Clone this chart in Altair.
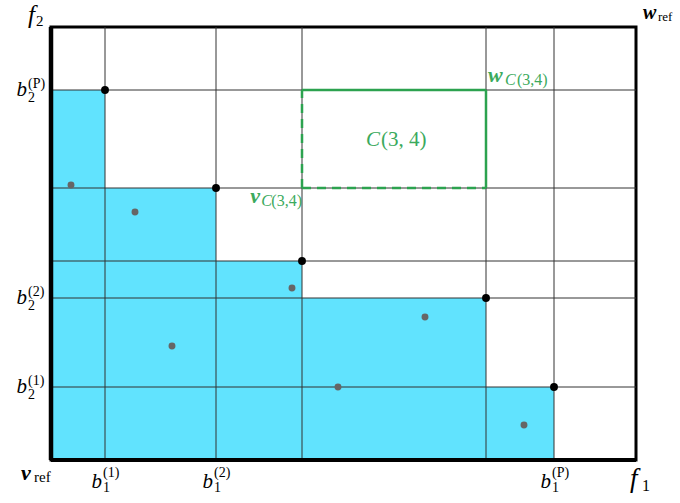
import altair as alt
import pandas as pd

# ---------------- data ----------------
X_MAX = 58.5
Y_MAX = 43.3

grid_x = [5.4, 16.5, 25.1, 43.5, 50.3]
grid_y = [7.3, 16.2, 19.9, 27.2, 37.0]

# local upper bounds (black corner points)
upper_x = [5.4, 16.5, 25.1, 43.5, 50.3]
upper_y = [37.0, 27.2, 19.9, 16.2, 7.3]

# image points (gray)
pts_x = [2.0, 8.4, 12.1, 24.1, 28.7, 37.4, 47.3]
pts_y = [27.5, 24.8, 11.4, 17.2, 7.3, 14.3, 3.5]

# cell C(3,4)
box_lo = [25.1, 27.2]
box_hi = [43.5, 37.0]

x_tick_vals = [5.4, 16.5, 50.3]
x_tick_sup = ["(1)", "(2)", "(P)"]
y_tick_vals = [7.3, 16.2, 37.0]
y_tick_sup = ["(1)", "(2)", "(P)"]

# ---------------- styles ----------------
FONT = "Liberation Serif"
CYAN = "#61E3FE"
GREEN = "#2CA24F"
GREEN_TXT = "#3BAA5D"

xs = alt.Scale(domain=[0, X_MAX], nice=False, zero=False)
ys = alt.Scale(domain=[0, Y_MAX], nice=False, zero=False)


def X(f):
    return alt.X(f, type="quantitative", scale=xs, axis=None)


def Y(f):
    return alt.Y(f, type="quantitative", scale=ys, axis=None)


# staircase fill
fill_df = pd.DataFrame({"x": [0.0] * len(upper_x), "x2": upper_x,
                        "y": [0.0] * len(upper_y), "y2": upper_y})
fill = alt.Chart(fill_df).mark_rect(color=CYAN, opacity=1).encode(
    x=X("x"), x2="x2", y=Y("y"), y2="y2")

# grid lines
vlines = alt.Chart(pd.DataFrame({"x": grid_x})).mark_rule(
    color="#333333", strokeWidth=1).encode(x=X("x"))
hlines = alt.Chart(pd.DataFrame({"y": grid_y})).mark_rule(
    color="#333333", strokeWidth=1).encode(y=Y("y"))

# box C(3,4)
solid_df = pd.DataFrame({
    "x": [box_lo[0], box_hi[0]], "x2": [box_hi[0], box_hi[0]],
    "y": [box_hi[1], box_lo[1]], "y2": [box_hi[1], box_hi[1]]})
dash_df = pd.DataFrame({
    "x": [box_lo[0], box_lo[0]], "x2": [box_hi[0], box_lo[0]],
    "y": [box_lo[1], box_lo[1]], "y2": [box_lo[1], box_hi[1]]})
box_solid = alt.Chart(solid_df).mark_rule(color=GREEN, strokeWidth=2.5).encode(
    x=X("x"), x2="x2", y=Y("y"), y2="y2")
box_dash = alt.Chart(dash_df).mark_rule(color=GREEN, strokeWidth=2.5,
                                        strokeDash=[9, 6]).encode(
    x=X("x"), x2="x2", y=Y("y"), y2="y2")

# thick axes lines
left_axis = alt.Chart(pd.DataFrame({"x": [0.0]})).mark_rule(
    color="black", strokeWidth=4.5).encode(x=X("x"))
bottom_axis = alt.Chart(pd.DataFrame({"y": [0.0]})).mark_rule(
    color="black", strokeWidth=4).encode(y=Y("y"))

# points
gray = alt.Chart(pd.DataFrame({"x": pts_x, "y": pts_y})).mark_circle(
    color="#666666", size=48, opacity=1).encode(x=X("x"), y=Y("y"))
black = alt.Chart(pd.DataFrame({"x": upper_x, "y": upper_y})).mark_circle(
    color="black", size=62, opacity=1).encode(x=X("x"), y=Y("y"))


def label(df, text, size, dx, dy, align="left", style="normal",
          weight="normal", color="black"):
    return alt.Chart(df).mark_text(
        font=FONT, fontSize=size, dx=dx, dy=dy, align=align,
        baseline="alphabetic", fontStyle=style, fontWeight=weight,
        color=color).encode(x=X("x"), y=Y("y"), text=text)


xt = pd.DataFrame({"x": x_tick_vals, "y": [0.0] * 3, "sup": x_tick_sup})
yt = pd.DataFrame({"x": [0.0] * 3, "y": y_tick_vals, "sup": y_tick_sup})

texts = [
    # x tick labels b_1^(k)
    label(xt, alt.value("b"), 21, -3, 28, align="right", style="italic"),
    label(xt, "sup:N", 14, -2, 17),
    label(xt, alt.value("1"), 14, -2, 32),
    # y tick labels b_2^(k)
    label(yt, alt.value("b"), 21, -24, 6, align="right", style="italic"),
    label(yt, "sup:N", 14, -23, -2),
    label(yt, alt.value("2"), 14, -23, 12),
]

tl = pd.DataFrame({"x": [0.0], "y": [Y_MAX]})
br = pd.DataFrame({"x": [X_MAX], "y": [0.0]})
tr = pd.DataFrame({"x": [X_MAX], "y": [Y_MAX]})
bl = pd.DataFrame({"x": [0.0], "y": [0.0]})
texts += [
    label(tl, alt.value("f"), 25, -16, -4, align="right", style="italic"),
    label(tl, alt.value("2"), 15, -15, -1),
    label(br, alt.value("f"), 27, -6, 27, style="italic"),
    label(br, alt.value("1"), 16, 6, 31),
    label(tr, alt.value("w"), 20, 7, -8, style="italic", weight="bold"),
    label(tr, alt.value("ref"), 13, 22, -6),
    label(bl, alt.value("v"), 22, -30, 20, style="italic", weight="bold"),
    label(bl, alt.value("ref"), 15, -17, 22),
]

hi = pd.DataFrame({"x": [box_hi[0]], "y": [box_hi[1]]})
lo = pd.DataFrame({"x": [box_lo[0]], "y": [box_lo[1]]})
mid = pd.DataFrame({"x": [(box_lo[0] + box_hi[0]) / 2],
                    "y": [(box_lo[1] + box_hi[1]) / 2]})
texts += [
    # w_C(3,4)
    label(hi, alt.value("w"), 22, 2, -8, style="italic", weight="bold",
          color=GREEN_TXT),
    label(hi, alt.value("C"), 16, 19, -5, style="italic", color=GREEN_TXT),
    label(hi, alt.value("(3,4)"), 16, 31, -5, color=GREEN_TXT),
    # v_C(3,4)
    label(lo, alt.value("(3,4)"), 16, 0, 18, align="right", color=GREEN_TXT),
    label(lo, alt.value("C"), 16, -30, 18, align="right", style="italic",
          color=GREEN_TXT),
    label(lo, alt.value("v"), 22, -42, 15, align="right", style="italic",
          weight="bold", color=GREEN_TXT),
    # C(3, 4)
    label(mid, alt.value("C"), 21, -14, 7, align="right", style="italic",
          color=GREEN_TXT),
    label(mid, alt.value("(3, 4)"), 21, -13, 7, color=GREEN_TXT),
]

chart = alt.layer(
    fill, vlines, hlines, box_dash, box_solid, left_axis, bottom_axis,
    gray, black, *texts
).properties(
    width=585, height=433,
    autosize=alt.AutoSizeParams(type="none"),
    padding={"left": 51, "top": 27, "right": 44, "bottom": 43},
).configure_view(stroke="black", strokeWidth=3)

chart.save("out.html", embed_options={"renderer": "svg", "actions": False})
